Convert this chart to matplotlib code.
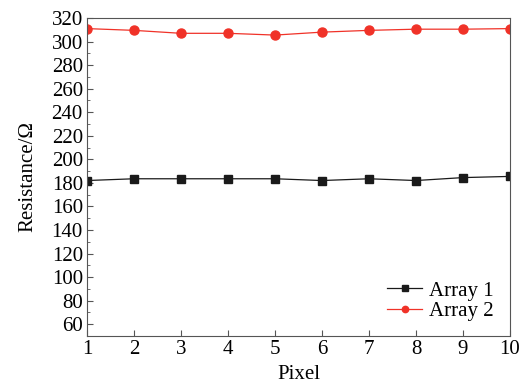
import matplotlib
matplotlib.use('Agg')
import matplotlib.pyplot as plt
from matplotlib.ticker import MultipleLocator

pixel = [1, 2, 3, 4, 5, 6, 7, 8, 9, 10]
array1 = [182, 183.5, 183.5, 183.5, 183.5, 182, 183.5, 182, 184.5, 185.5]
array2 = [311, 309.5, 307, 307, 305.5, 308, 309.5, 310.5, 310.5, 311]

plt.rcParams['font.family'] = ['Liberation Serif', 'DejaVu Serif']

fig = plt.figure(figsize=(5.27, 3.86), dpi=100)
ax = fig.add_axes([87 / 527, 1 - 336 / 386, 423 / 527, 318 / 386])

ax.plot(pixel, array1, color='#1a1a1a', lw=0.9, marker='s', ms=6, label='Array 1')
ax.plot(pixel, array2, color='#f03228', lw=0.9, marker='o', ms=6.5, label='Array 2')

ax.set_xlim(1, 10)
ax.set_ylim(50, 320)
ax.xaxis.set_major_locator(MultipleLocator(1))
ax.yaxis.set_minor_locator(MultipleLocator(10))
ax.set_yticks(range(60, 321, 20))
ax.tick_params(direction='in', labelsize=15, length=4, color='#555555', pad=3)
ax.tick_params(which='minor', direction='in', length=2, color='#555555')
for s in ax.spines.values():
    s.set_color('#555555')

ax.set_xlabel('Pixel', fontsize=15, labelpad=4)
ax.set_ylabel('Resistance/Ω', fontsize=15, labelpad=10)

ax.legend(loc='lower right', bbox_to_anchor=(0.995, 0.0), frameon=False,
          fontsize=15, handlelength=1.7, markerscale=0.7, handletextpad=0.3,
          labelspacing=0.05, borderaxespad=0.3)

fig.savefig('out.png', dpi=100)
